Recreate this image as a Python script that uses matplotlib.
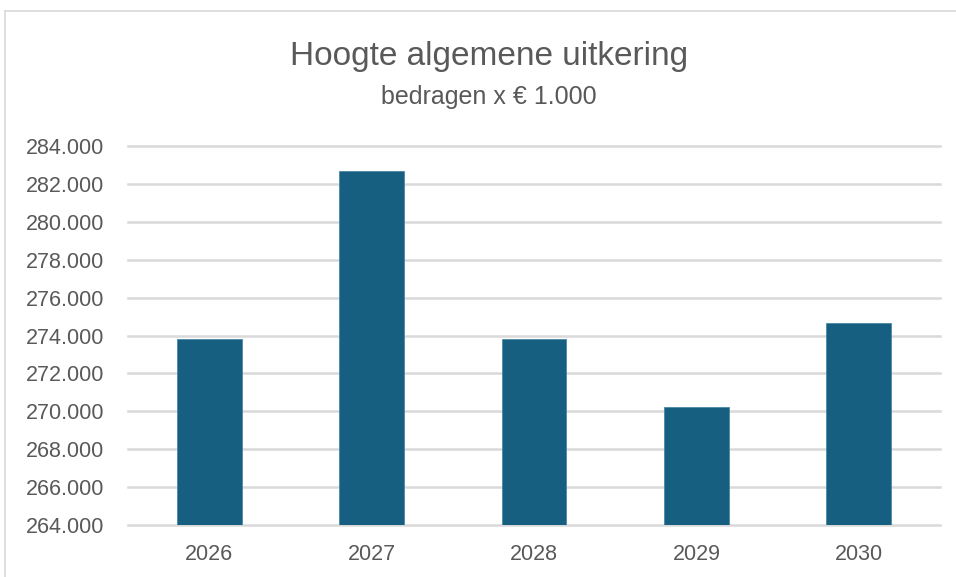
import matplotlib
matplotlib.use("Agg")
import matplotlib.pyplot as plt
from matplotlib.ticker import FuncFormatter
from matplotlib.lines import Line2D

years = ["2026", "2027", "2028", "2029", "2030"]
bedrag = [273800, 282700, 273820, 270240, 274640]  # x € 1.000
title = "Hoogte algemene uitkering"
subtitle = "bedragen x € 1.000"

bar_color = "#165F80"
text_color = "#595959"
grid_color = "#D9D9D9"

plt.rcParams["font.family"] = ["Liberation Sans", "DejaVu Sans"]

fig = plt.figure(figsize=(9.56, 5.77), dpi=100)
ax = fig.add_axes([128 / 956, 1 - 525 / 577, (940 - 128) / 956, (525 - 146) / 577])

ax.bar(years, bedrag, width=0.4, color=bar_color, edgecolor="#4A88A8", linewidth=0.6, zorder=3)
ax.set_ylim(264000, 284000)
ax.set_xlim(-0.5, len(years) - 0.5)
ax.set_yticks(range(264000, 284001, 2000))
ax.yaxis.set_major_formatter(FuncFormatter(lambda v, p: f"{int(v):,}".replace(",", ".")))

ax.grid(axis="y", color=grid_color, linewidth=1.8, zorder=0)
for gl in ax.yaxis.get_gridlines():
    gl.set_clip_on(False)
for s in ax.spines.values():
    s.set_visible(False)
ax.tick_params(axis="both", length=0, labelsize=15.5, labelcolor=text_color)
ax.tick_params(axis="y", pad=17)
ax.tick_params(axis="x", pad=14)

# chart border (clipped at right and bottom like the screenshot)
x0 = 5 / 956
y0 = 1 - 11 / 577
fig.add_artist(Line2D([x0, 1], [y0, y0], color=grid_color, linewidth=1.2, transform=fig.transFigure))
fig.add_artist(Line2D([x0, x0], [0, y0], color=grid_color, linewidth=1.2, transform=fig.transFigure))

fig.text(489 / 956, 1 - 57 / 577, title, ha="center", va="center", fontsize=24,
         color=text_color)
fig.text(489 / 956, 1 - 97 / 577, subtitle, ha="center", va="center", fontsize=18,
         color=text_color)

fig.savefig("out.png", dpi=100)
